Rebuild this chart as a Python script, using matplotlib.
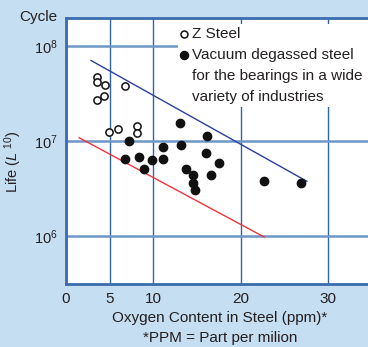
import matplotlib
matplotlib.use("Agg")
import matplotlib.pyplot as plt
from matplotlib.patches import Rectangle
from matplotlib.lines import Line2D

plt.rcParams['font.family'] = ['Liberation Sans', 'DejaVu Sans']
plt.rcParams['mathtext.fontset'] = 'custom'
plt.rcParams['mathtext.rm'] = 'Liberation Sans'
plt.rcParams['mathtext.it'] = 'Liberation Sans:italic'

# Z Steel (open circles)
z_oxygen = [3.5, 3.5, 4.5, 6.8, 4.4, 3.6, 4.9, 6.0, 8.1, 8.1]
z_life = [4.7e7, 4.2e7, 3.9e7, 3.8e7, 3.0e7, 2.7e7, 1.24e7, 1.35e7, 1.44e7, 1.22e7]

# vacuum degassed steel (filled circles)
v_oxygen = [7.25, 6.8, 8.4, 8.9, 9.9, 11.15, 11.15, 13.1, 13.2, 16.2,
            16.0, 13.7, 14.6, 14.6, 14.8, 16.6, 17.5, 22.7, 26.9]
v_life = [1.0e7, 6.5e6, 6.7e6, 5.1e6, 6.3e6, 8.6e6, 6.5e6, 1.55e7, 9.0e6, 1.14e7,
          7.5e6, 5.1e6, 4.4e6, 3.6e6, 3.0e6, 4.4e6, 5.9e6, 3.8e6, 3.6e6]

# trend lines
blue_x = [2.86, 27.6]
blue_y = [7.05e7, 3.75e6]
red_x = [1.5, 22.7]
red_y = [1.08e7, 9.7e5]

x_ticks = [0, 5, 10, 20, 30]
y_ticks = [1e6, 1e7, 1e8]

legend_lines = ['Vacuum degassed steel', 'for the bearings in a wide',
                'variety of industries']

bg = '#c6def2'
txt = '#231f20'
fs = 11

fig = plt.figure(figsize=(3.68, 3.47), dpi=100, facecolor=bg)
ax = fig.add_axes([66 / 368, 63 / 347, 302 / 368, 266.5 / 347])
ax.set_facecolor('white')
ax.set_yscale('log')
ax.set_xlim(0, 34.6)
ax.set_ylim(3.1e5, 2.0e8)

ax.set_xticks(x_ticks)
ax.set_xticklabels([str(t) for t in x_ticks])
ax.set_yticks(y_ticks)
ax.yaxis.set_minor_locator(matplotlib.ticker.NullLocator())
ax.tick_params(length=0, colors=txt)
ax.tick_params(axis='x', labelsize=fs, pad=6)
ax.tick_params(axis='y', labelsize=10.5, pad=6)

ax.set_axisbelow(True)
ax.grid(axis='x', color='#2f63aa', lw=1.0)
ax.grid(axis='y', color='#6d97c7', lw=1.8)

for s in ['left', 'top', 'bottom']:
    ax.spines[s].set_color('#3a6cad')
    ax.spines[s].set_linewidth(2)
ax.spines['right'].set_visible(False)

ax.plot(blue_x, blue_y, color='#2b3f9e', lw=1.0, zorder=3)
ax.plot(red_x, red_y, color='#f2343c', lw=1.0, zorder=3)

ax.plot(z_oxygen, z_life, 'o', ls='none', ms=5.2, mfc='white', mec='#111111',
        mew=1.1, zorder=4)
ax.plot(v_oxygen, v_life, 'o', ls='none', ms=6.0, color='#111111', zorder=4)

# legend box drawn by hand so the marker sits on the first line
ax.add_patch(Rectangle((178 / 368, 240 / 347), 0.6, 83 / 347,
                       transform=fig.transFigure, facecolor='white',
                       edgecolor='none', zorder=2))
fig.lines.append(Line2D([184 / 368], [1 - 34 / 347], marker='o', ms=5.0,
                        mfc='white', mec='#111111', mew=1.1,
                        transform=fig.transFigure))
fig.lines.append(Line2D([184 / 368], [1 - 55 / 347], marker='o', ms=5.8,
                        color='#111111', transform=fig.transFigure))
fig.text(192 / 368, 1 - 34 / 347, 'Z Steel', fontsize=fs, color=txt,
         va='center')
for i, line in enumerate(legend_lines):
    fig.text(192 / 368, 1 - (55 + 21 * i) / 347, line, fontsize=fs,
             color=txt, va='center')

fig.text(57 / 368, 1 - 17 / 347, 'Cycle', fontsize=fs, color=txt,
         ha='right', va='center')
fig.text(13 / 368, 1 - 162 / 347, r'Life ($\mathit{L}$ $^{10}$)', fontsize=10.5,
         color=txt, rotation=90, ha='center', va='center')
fig.text(220 / 368, 1 - 318 / 347, 'Oxygen Content in Steel (ppm)*',
         fontsize=fs, color=txt, ha='center', va='center')
fig.text(220 / 368, 1 - 338 / 347, '*PPM = Part per milion',
         fontsize=fs, color=txt, ha='center', va='center')

fig.savefig('out.png', dpi=100, facecolor=bg)
